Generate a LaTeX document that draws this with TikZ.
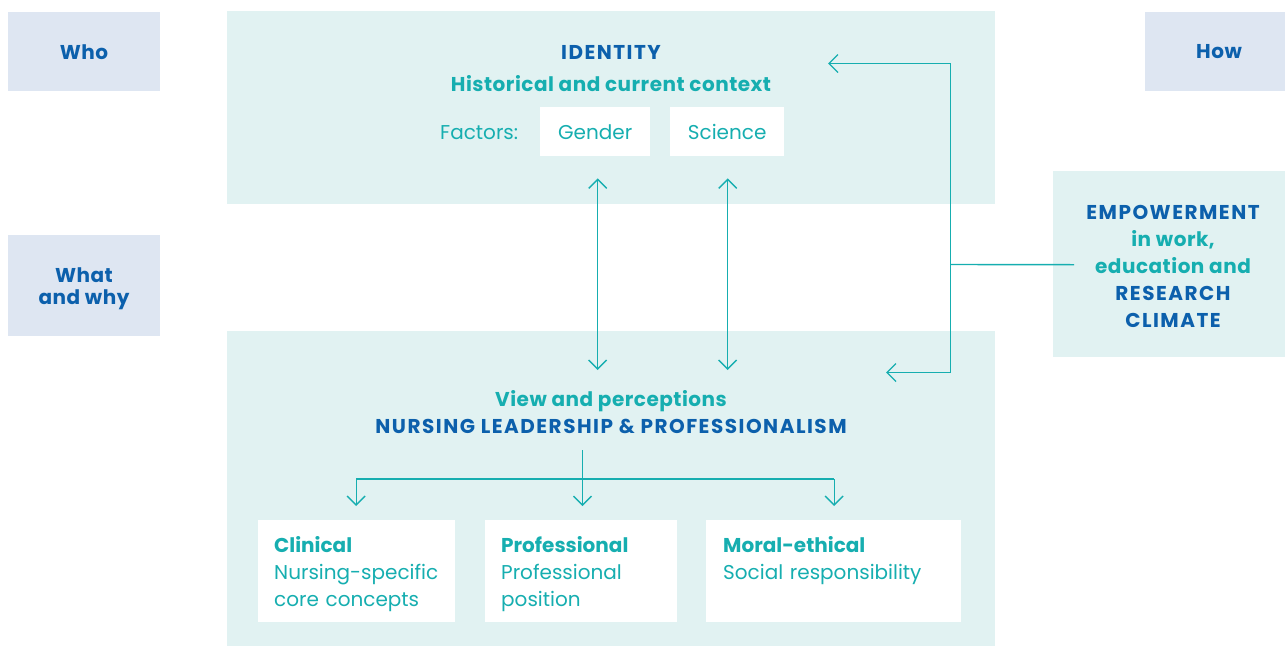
\documentclass[tikz,border=0pt]{standalone}
\usepackage{fontspec}
\setmainfont{Poppins}
\usetikzlibrary{positioning}
\usetikzlibrary{calc}
\usetikzlibrary{arrows.meta}
\definecolor{deep blue}{RGB}{12,96,172}
\definecolor{sea teal}{RGB}{22,174,176}
\definecolor{panel teal}{RGB}{225,242,242}
\definecolor{side blue}{RGB}{222,230,242}
% wide tracking for headings set in capitals
\newcommand{\spacedcaps}[1]{{\addfontfeature{LetterSpace=7.5}#1}}
\tikzset{
    % Thin open arrow heads for every link
    >={Straight Barb[length=9pt,width=18pt]},
%
    % Body text of the whole figure
    body font/.style={font=\fontsize{20}{27}\selectfont},
    bold font/.style={font=\fontsize{20}{27}\selectfont\bfseries
        \addfontfeature{LetterSpace=2.5}},
%
    % Pale panels grouping the two main parts
    panel/.style={fill=panel teal, inner sep=0, anchor=north west,
        minimum width=768pt, minimum height=#1},
%
    % Questions down the side
    side box/.style={fill=side blue, inner sep=0, anchor=north west,
        minimum width=152pt, minimum height=79pt},
    side text/.style={text=deep blue, inner sep=0, align=center,
        font=\fontsize{20}{22}\selectfont\bfseries\addfontfeature{LetterSpace=2.5}},
%
    % White boxes holding text
    white box/.style={fill=white, inner sep=0, anchor=north west},
%
    % Headings
    dark head/.style={bold font, text=deep blue, inner sep=0},
    teal head/.style={bold font, text=sea teal, inner sep=0},
    teal text/.style={body font, text=sea teal, inner sep=0},
%
    % Connecting lines
    link/.style={draw=sea teal, line width=1.4pt}}

\begin{document}
\begin{tikzpicture}[x=1pt, y=-1pt, body font]
\useasboundingbox (0,0) rectangle (1285,646);

% main panels
\node [panel=193pt] (identity panel) at (227,11) {};
\node [panel=315pt] (view panel) at (227,331) {};

% side questions
\node [side box] (who) at (8,12) {};
\node [side text] (who text) at (84,52) {Who};
\node [side box, minimum height=101pt] (what) at (8,235) {};
\node [side text] (what text) at (84,289) {What\\and why};
\node [side box, minimum width=140pt] (how) at (1145,12) {};
\node [side text] (how text) at (1219,52) {How};

\node [fill=panel teal, inner sep=0, anchor=north west, minimum width=232pt,
    minimum height=186pt] (empower) at (1053,171) {};
\node [align=center, bold font, text=sea teal]
    (empower text) at (1173,266)
    {\textcolor{deep blue}{\spacedcaps{EMPOWERMENT}}\\in work,\\education and\\
     \textcolor{deep blue}{\spacedcaps{RESEARCH}}\\
     \textcolor{deep blue}{\spacedcaps{CLIMATE}}};

% identity part
\node [dark head, anchor=base] (identity) at (611,59) {\spacedcaps{IDENTITY}};
\node [teal head, anchor=base] (context) at (611,91)
    {Historical and current context};
\node [teal text, anchor=base west] (factors) at (440,139) {Factors:};
\node [white box, teal text, minimum width=110pt, minimum height=49pt]
    (gender) at (540,107) {Gender};
\node [white box, teal text, minimum width=114pt, minimum height=49pt]
    (science) at (670,107) {Science};

% view part
\node [teal head, anchor=base] (view) at (611,406) {View and perceptions};
\node [dark head, anchor=base] (leadership) at (611,433)
    {\spacedcaps{NURSING LEADERSHIP \& PROFESSIONALISM}};

\node [white box, minimum width=197pt, minimum height=102pt]
    (clinical) at (258,520) {};
\node [white box, minimum width=192pt, minimum height=102pt]
    (professional) at (485,520) {};
\node [white box, minimum width=255pt, minimum height=102pt]
    (moral) at (706,520) {};

\node [teal text, anchor=base west, align=left, text width=190pt]
    (clinical text) at (274,552)
    {\textbf{Clinical}\\Nursing-specific\\core concepts};
\node [teal text, anchor=base west, align=left, text width=180pt]
    (professional text) at (501,552)
    {\textbf{Professional}\\Professional\\position};
\node [teal text, anchor=base west, align=left, text width=230pt]
    (moral text) at (723,552)
    {\textbf{Moral-ethical}\\Social responsibility};

% links between identity and view
\draw [link, <->] ([xshift=2.5pt, yshift=-22pt]gender.south) --
    ([xshift=2.5pt, yshift=-39pt]gender.south |- view panel.north);
\draw [link, <->] ([xshift=0.5pt, yshift=-22pt]science.south) --
    ([xshift=0.5pt, yshift=-39pt]science.south |- view panel.north);

% empowerment feeds both parts
\coordinate (hub) at (950.5,264.5);
\coordinate (identity tip) at (828,63.5);
\coordinate (view tip) at (886,372.5);
\draw [link] ([xshift=21pt, yshift=-0.5pt]empower.west) -- (hub);
\draw [link, ->] (hub) |- (identity tip);
\draw [link, ->] (hub) |- (view tip);

% the three dimensions
\coordinate (trunk) at (582.5,450);
\coordinate (fork) at (582.5,479);
\coordinate (fork left) at ($(clinical.north)+(-0.5,-41)$);
\coordinate (fork right) at ($(moral.north)+(0.5,-41)$);
\draw [link, line width=1.8pt] (fork left) -- (fork right);
\draw [link, ->] (trunk) -- ([yshift=14pt]professional.north -| trunk);
\draw [link, ->] (fork left) -- ([yshift=14pt]clinical.north -| fork left);
\draw [link, ->] (fork right) -- ([yshift=14pt]moral.north -| fork right);

\end{tikzpicture}
\end{document}
